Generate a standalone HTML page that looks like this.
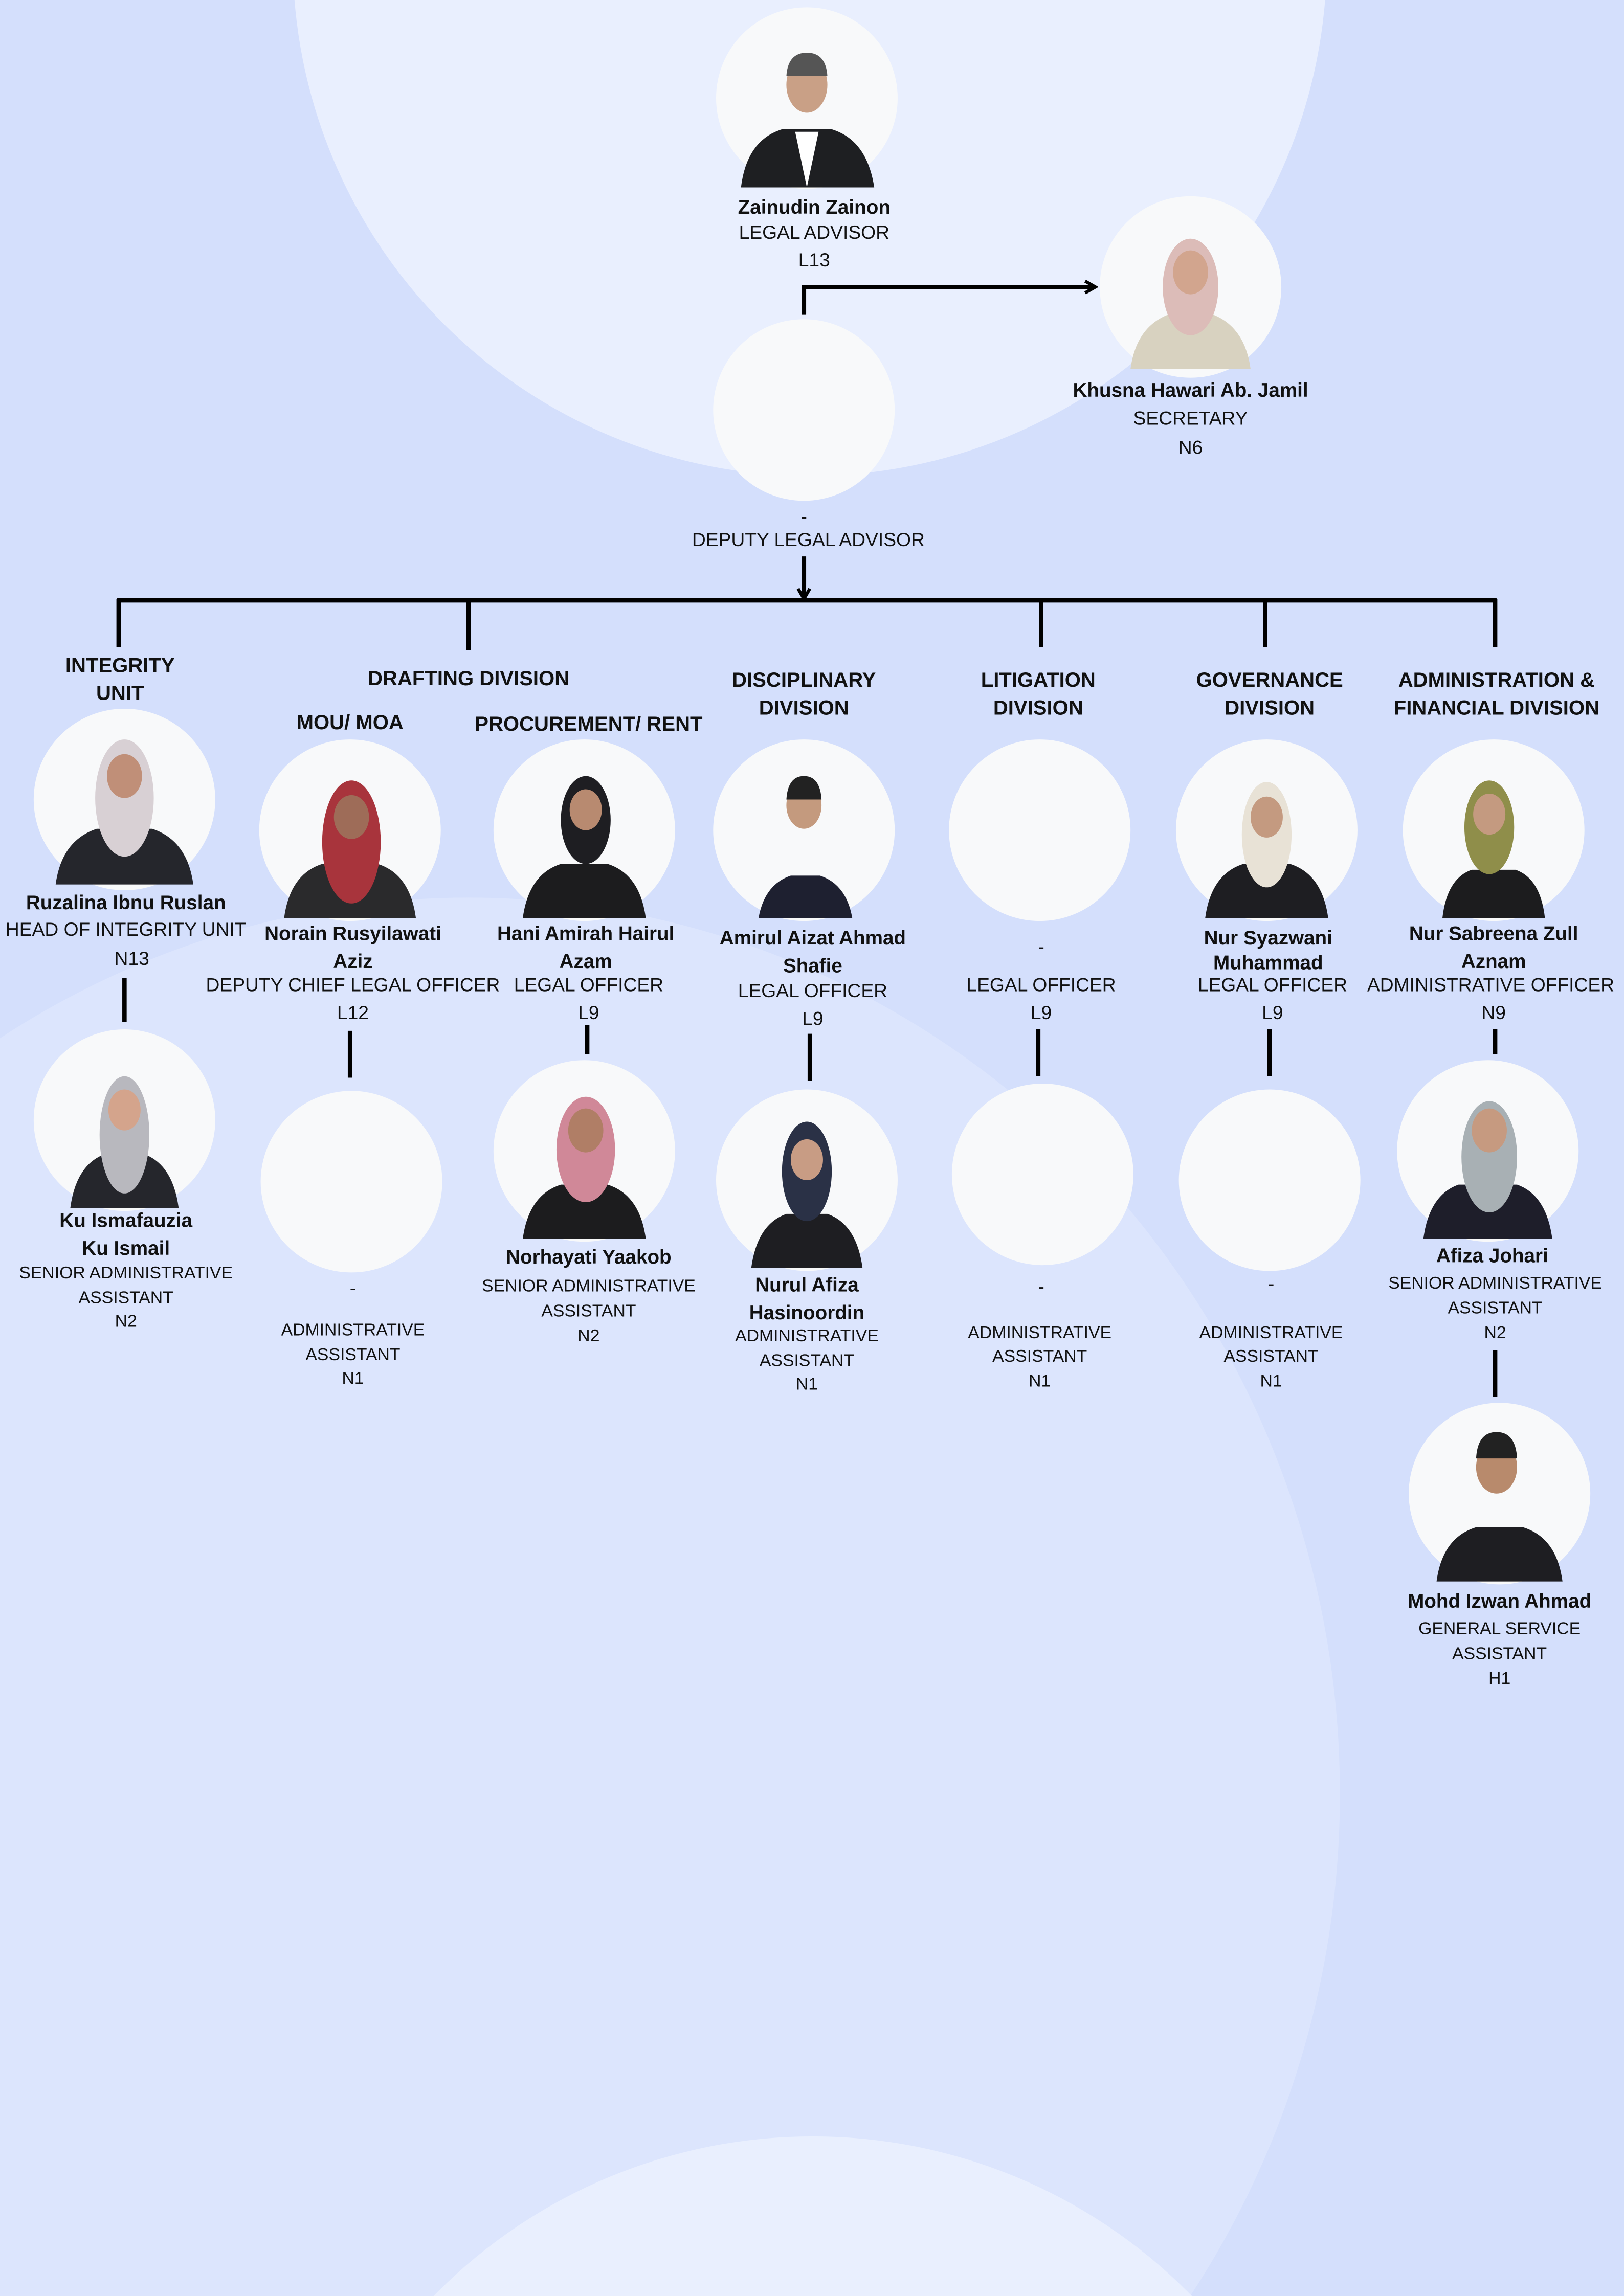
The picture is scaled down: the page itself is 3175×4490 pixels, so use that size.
<!DOCTYPE html>
<html><head><meta charset="utf-8"><style>
html,body{margin:0;padding:0;background:#d4dffc;overflow:hidden;width:3175px;height:4490px;}
svg{display:block}
text{font-family:"Liberation Sans",sans-serif;fill:#111;}
.n{font-weight:bold;font-size:13.5px}
.t{font-size:13px}
.s{font-size:11.8px}
.h{font-weight:bold;font-size:14px}
</style></head><body>
<svg width="3175" height="4490" viewBox="0 0 1109 1568" preserveAspectRatio="none" xmlns="http://www.w3.org/2000/svg">
<defs>
<marker id="ar" markerWidth="10" markerHeight="10" refX="8" refY="5" orient="auto" markerUnits="userSpaceOnUse"><path d="M1,1 L8,5 L1,9" fill="none" stroke="#000" stroke-width="2.2"/></marker>
</defs>
<rect width="1109" height="1568" fill="#d4dffc"/>
<ellipse cx="320" cy="1225" rx="595" ry="612" fill="#dce5fd"/>
<circle cx="553" cy="-28" r="353" fill="#e9effe"/>
<circle cx="555" cy="1821" r="362" fill="#e9effe"/>

<g stroke="#000" stroke-width="3" fill="none">
<path d="M549,215 L549,196 L748,196" marker-end="url(#ar)"/>
<path d="M549,380 L549,409" marker-end="url(#ar)"/>
<path d="M80,410 L1022,410"/>
<path d="M81,409 V442 M320,409 V444 M711,409 V442 M864,409 V442 M1021,409 V442"/>
<path d="M85,668 V698 M239,704 V736 M401,700 V720 M553,706 V738 M709,703 V735 M867,703 V735 M1021,703 V720 M1021,922 V954"/>
</g>

<g fill="#f8f9fa">
<circle cx="551" cy="67" r="62"/><circle cx="549" cy="280" r="62"/><circle cx="813" cy="196" r="62"/>
<circle cx="85" cy="546" r="62"/><circle cx="85" cy="765" r="62"/>
<circle cx="239" cy="567" r="62"/><circle cx="240" cy="807" r="62"/>
<circle cx="399" cy="567" r="62"/><circle cx="399" cy="786" r="62"/>
<circle cx="549" cy="567" r="62"/><circle cx="551" cy="806" r="62"/>
<circle cx="710" cy="567" r="62"/><circle cx="712" cy="802" r="62"/>
<circle cx="865" cy="567" r="62"/><circle cx="867" cy="806" r="62"/>
<circle cx="1020" cy="567" r="62"/><circle cx="1016" cy="786" r="62"/><circle cx="1024" cy="1020" r="62"/>
</g>

<g>
<path d="M506,128 Q510,95 535,88 L567,88 Q592,95 597,128 Z" fill="#1e1f22"/><path d="M543,90 L559,90 L551,128 Z" fill="#fff"/><ellipse cx="551" cy="58" rx="14" ry="19" fill="#c9a086"/><path d="M537,52 Q538,36 551,36 Q564,36 565,52 Z" fill="#555"/>
<path d="M772,252 Q776,222 800,214 L826,214 Q850,222 854,252 Z" fill="#d8d2c0"/><ellipse cx="813" cy="196" rx="19" ry="33" fill="#dcbcb8"/><ellipse cx="813" cy="186" rx="12" ry="15" fill="#d2a58e"/>
<path d="M38,604 Q42,574 66,566 L104,566 Q128,574 132,604 Z" fill="#25262c"/><ellipse cx="85" cy="545" rx="20" ry="40" fill="#d8d0d4"/><ellipse cx="85" cy="530" rx="12" ry="15" fill="#c08f78"/>
<path d="M48,825 Q52,795 72,788 L98,788 Q118,795 122,825 Z" fill="#25262c"/><ellipse cx="85" cy="775" rx="17" ry="40" fill="#b8b8be"/><ellipse cx="85" cy="758" rx="11" ry="14" fill="#d4a48c"/>
<path d="M194,627 Q198,597 220,590 L258,590 Q280,597 284,627 Z" fill="#2a2a2c"/><ellipse cx="240" cy="575" rx="20" ry="42" fill="#a8343c"/><ellipse cx="240" cy="558" rx="12" ry="15" fill="#9e6c58"/>
<path d="M357,627 Q361,597 383,590 L415,590 Q437,597 441,627 Z" fill="#1c1c1e"/><ellipse cx="400" cy="560" rx="17" ry="30" fill="#1e1e22"/><ellipse cx="400" cy="553" rx="11" ry="14" fill="#b88a70"/>
<path d="M357,846 Q361,816 383,809 L415,809 Q437,816 441,846 Z" fill="#1c1c1e"/><ellipse cx="400" cy="785" rx="20" ry="36" fill="#d08898"/><ellipse cx="400" cy="772" rx="12" ry="15" fill="#b07e66"/>
<path d="M518,627 Q522,604 540,598 L560,598 Q578,604 582,627 Z" fill="#1e2030"/><ellipse cx="549" cy="550" rx="12" ry="16" fill="#c49a7e"/><path d="M537,546 Q538,530 549,530 Q560,530 561,546 Z" fill="#222"/>
<path d="M513,866 Q517,836 537,829 L565,829 Q585,836 589,866 Z" fill="#1e1e22"/><ellipse cx="551" cy="800" rx="17" ry="34" fill="#2a3146"/><ellipse cx="551" cy="792" rx="11" ry="14" fill="#c89c84"/>
<path d="M823,627 Q827,597 849,590 L881,590 Q903,597 907,627 Z" fill="#1e1e22"/><ellipse cx="865" cy="570" rx="17" ry="36" fill="#e8e2d6"/><ellipse cx="865" cy="558" rx="11" ry="14" fill="#c49a80"/>
<path d="M985,627 Q988,600 1005,594 L1035,594 Q1052,600 1055,627 Z" fill="#1c1c1e"/><ellipse cx="1017" cy="565" rx="17" ry="32" fill="#8f8e4a"/><ellipse cx="1017" cy="556" rx="11" ry="14" fill="#c49a80"/>
<path d="M972,846 Q976,816 996,809 L1036,809 Q1056,816 1060,846 Z" fill="#1e1e2a"/><ellipse cx="1017" cy="790" rx="19" ry="38" fill="#a8b0b4"/><ellipse cx="1017" cy="772" rx="12" ry="15" fill="#c69a80"/>
<path d="M981,1080 Q985,1050 1008,1043 L1040,1043 Q1063,1050 1067,1080 Z" fill="#1e1e22"/><ellipse cx="1022" cy="1002" rx="14" ry="18" fill="#b88a6c"/><path d="M1008,996 Q1009,978 1022,978 Q1035,978 1036,996 Z" fill="#222"/>
</g>

<g text-anchor="middle">
<text class="n" x="556" y="146">Zainudin Zainon</text>
<text class="t" x="556" y="163">LEGAL ADVISOR</text>
<text class="t" x="556" y="182">L13</text>
<text class="n" x="813" y="271">Khusna Hawari Ab. Jamil</text>
<text class="t" x="813" y="290">SECRETARY</text>
<text class="t" x="813" y="310">N6</text>
<text class="t" x="549" y="357">-</text>
<text class="t" x="552" y="373">DEPUTY LEGAL ADVISOR</text>

<text class="h" x="82" y="459">INTEGRITY</text><text class="h" x="82" y="478">UNIT</text>
<text class="h" x="320" y="468">DRAFTING DIVISION</text>
<text class="h" x="239" y="498">MOU/ MOA</text>
<text class="h" x="402" y="499">PROCUREMENT/ RENT</text>
<text class="h" x="549" y="469">DISCIPLINARY</text><text class="h" x="549" y="488">DIVISION</text>
<text class="h" x="709" y="469">LITIGATION</text><text class="h" x="709" y="488">DIVISION</text>
<text class="h" x="867" y="469">GOVERNANCE</text><text class="h" x="867" y="488">DIVISION</text>
<text class="h" x="1022" y="469">ADMINISTRATION &amp;</text><text class="h" x="1022" y="488">FINANCIAL DIVISION</text>

<text class="n" x="86" y="621">Ruzalina Ibnu Ruslan</text>
<text class="t" x="86" y="639">HEAD OF INTEGRITY UNIT</text>
<text class="t" x="90" y="659">N13</text>
<text class="n" x="86" y="838">Ku Ismafauzia</text>
<text class="n" x="86" y="857">Ku Ismail</text>
<text class="s" x="86" y="873">SENIOR ADMINISTRATIVE</text>
<text class="s" x="86" y="890">ASSISTANT</text>
<text class="s" x="86" y="906">N2</text>

<text class="n" x="241" y="642">Norain Rusyilawati</text>
<text class="n" x="241" y="661">Aziz</text>
<text class="t" x="241" y="677">DEPUTY CHIEF LEGAL OFFICER</text>
<text class="t" x="241" y="696">L12</text>
<text class="t" x="241" y="884">-</text>
<text class="s" x="241" y="912">ADMINISTRATIVE</text>
<text class="s" x="241" y="929">ASSISTANT</text>
<text class="s" x="241" y="945">N1</text>

<text class="n" x="400" y="642">Hani Amirah Hairul</text>
<text class="n" x="400" y="661">Azam</text>
<text class="t" x="402" y="677">LEGAL OFFICER</text>
<text class="t" x="402" y="696">L9</text>
<text class="n" x="402" y="863">Norhayati Yaakob</text>
<text class="s" x="402" y="882">SENIOR ADMINISTRATIVE</text>
<text class="s" x="402" y="899">ASSISTANT</text>
<text class="s" x="402" y="916">N2</text>

<text class="n" x="555" y="645">Amirul Aizat Ahmad</text>
<text class="n" x="555" y="664">Shafie</text>
<text class="t" x="555" y="681">LEGAL OFFICER</text>
<text class="t" x="555" y="700">L9</text>
<text class="n" x="551" y="882">Nurul Afiza</text>
<text class="n" x="551" y="901">Hasinoordin</text>
<text class="s" x="551" y="916">ADMINISTRATIVE</text>
<text class="s" x="551" y="933">ASSISTANT</text>
<text class="s" x="551" y="949">N1</text>

<text class="t" x="711" y="651">-</text>
<text class="t" x="711" y="677">LEGAL OFFICER</text>
<text class="t" x="711" y="696">L9</text>
<text class="t" x="711" y="883">-</text>
<text class="s" x="710" y="914">ADMINISTRATIVE</text>
<text class="s" x="710" y="930">ASSISTANT</text>
<text class="s" x="710" y="947">N1</text>

<text class="n" x="866" y="645">Nur Syazwani</text>
<text class="n" x="866" y="662">Muhammad</text>
<text class="t" x="869" y="677">LEGAL OFFICER</text>
<text class="t" x="869" y="696">L9</text>
<text class="t" x="868" y="881">-</text>
<text class="s" x="868" y="914">ADMINISTRATIVE</text>
<text class="s" x="868" y="930">ASSISTANT</text>
<text class="s" x="868" y="947">N1</text>

<text class="n" x="1020" y="642">Nur Sabreena Zull</text>
<text class="n" x="1020" y="661">Aznam</text>
<text class="t" x="1018" y="677">ADMINISTRATIVE OFFICER</text>
<text class="t" x="1020" y="696">N9</text>
<text class="n" x="1019" y="862">Afiza Johari</text>
<text class="s" x="1021" y="880">SENIOR ADMINISTRATIVE</text>
<text class="s" x="1021" y="897">ASSISTANT</text>
<text class="s" x="1021" y="914">N2</text>

<text class="n" x="1024" y="1098">Mohd Izwan Ahmad</text>
<text class="s" x="1024" y="1116">GENERAL SERVICE</text>
<text class="s" x="1024" y="1133">ASSISTANT</text>
<text class="s" x="1024" y="1150">H1</text>
</g>
</svg>
</body></html>
